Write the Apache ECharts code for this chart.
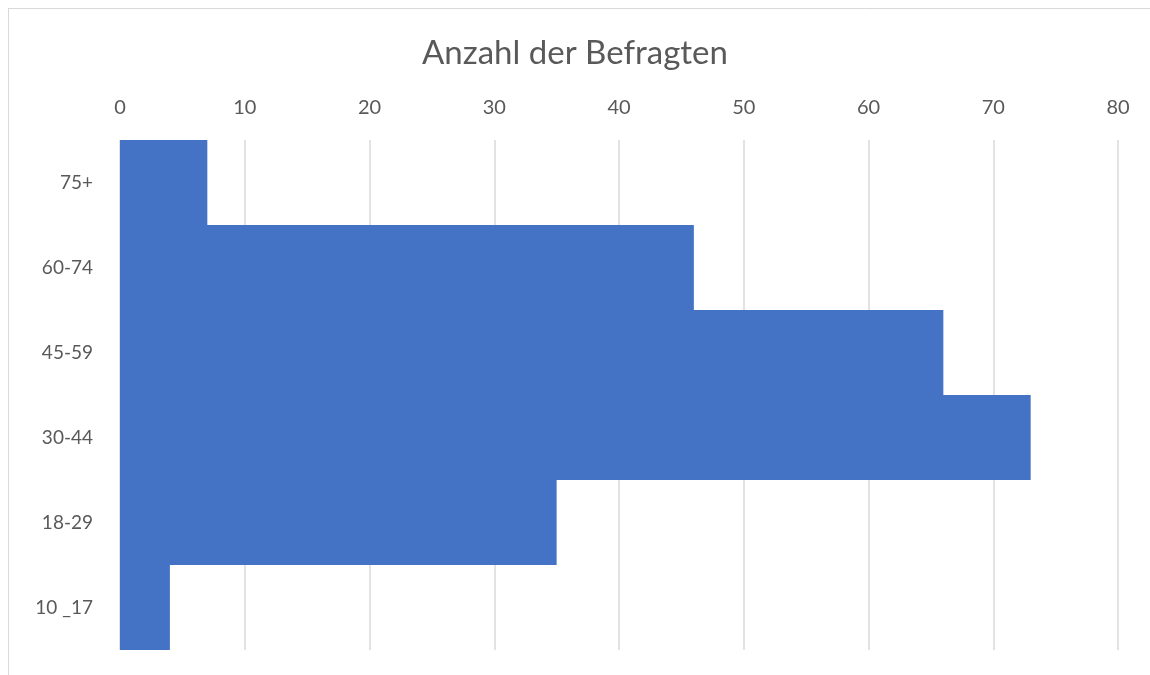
<!DOCTYPE html>
<html>
<head>
<meta charset="utf-8">
<script src="https://cdn.jsdelivr.net/npm/echarts@6/dist/echarts.min.js"></script>
<style>
html,body{margin:0;padding:0;background:#fff;}
#c{width:1150px;height:675px;}
</style>
</head>
<body>
<div id="c"></div>
<script>
const categories = ['75+', '60-74', '45-59', '30-44', '18-29', '10 _17'];
const values = [7, 46, 66, 73, 35, 4];
const titleText = 'Anzahl der Befragten';
const axisMin = 0, axisMax = 80, axisInterval = 10;

const chart = echarts.init(document.getElementById('c'));
const font = 'Lato, "Open Sans", sans-serif';
chart.setOption({
  backgroundColor: '#ffffff',
  animation: false,
  title: {
    text: titleText,
    left: 'center',
    top: 32,
    textStyle: {fontFamily: font, fontSize: 33, fontWeight: 'normal', color: '#595959'}
  },
  graphic: [
    {type: 'line', shape: {x1: 8, y1: 8.5, x2: 1150, y2: 8.5}, style: {stroke: '#D9D9D9', lineWidth: 1}},
    {type: 'line', shape: {x1: 8.5, y1: 8, x2: 8.5, y2: 675}, style: {stroke: '#D9D9D9', lineWidth: 1}}
  ],
  grid: {left: 120, right: 32, top: 140, bottom: 25, containLabel: false},
  xAxis: {
    type: 'value',
    position: 'top',
    min: axisMin, max: axisMax, interval: axisInterval,
    axisLine: {show: false},
    axisTick: {show: false},
    axisLabel: {fontFamily: font, fontSize: 20, color: '#595959', margin: 22},
    splitLine: {show: true, lineStyle: {color: '#D9D9D9', width: 1.5}}
  },
  yAxis: {
    type: 'category',
    data: categories,
    inverse: true,
    axisLine: {show: false},
    axisTick: {show: false},
    axisLabel: {fontFamily: font, fontSize: 19, color: '#595959', margin: 27}
  },
  series: [{
    type: 'bar',
    data: values,
    barCategoryGap: '0%',
    itemStyle: {color: '#4472C4'}
  }]
});
</script>
</body>
</html>
